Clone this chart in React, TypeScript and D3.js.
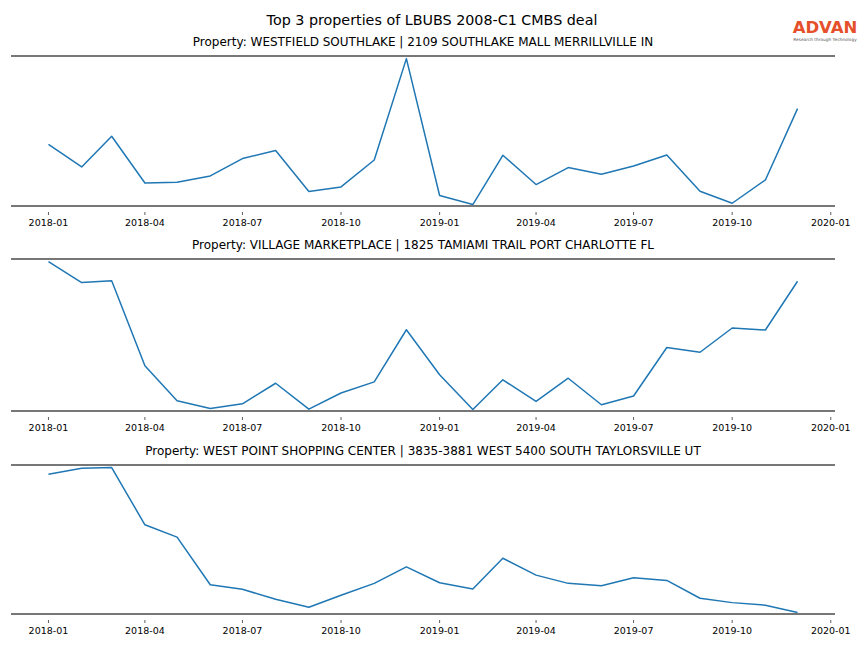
import React from "react";
import * as d3 from "d3";

const months: string[] = [
  "2018-01","2018-02","2018-03","2018-04","2018-05","2018-06","2018-07","2018-08","2018-09","2018-10","2018-11","2018-12",
  "2019-01","2019-02","2019-03","2019-04","2019-05","2019-06","2019-07","2019-08","2019-09","2019-10","2019-11","2019-12",
];

const titles: string[] = [
  "Property: WESTFIELD SOUTHLAKE | 2109 SOUTHLAKE MALL MERRILLVILLE IN",
  "Property: VILLAGE MARKETPLACE | 1825 TAMIAMI TRAIL PORT CHARLOTTE FL",
  "Property: WEST POINT SHOPPING CENTER | 3835-3881 WEST 5400 SOUTH TAYLORSVILLE UT",
];

const southlake: number[] = [617,390,697,230,237,300,474,554,144,190,460,1474,104,14,507,214,384,317,400,510,147,27,260,974];
const marketplace: number[] = [1484,1277,1294,454,107,30,77,280,24,184,294,810,364,20,314,100,330,67,154,634,587,827,807,1290];
const westpoint: number[] = [1404,1464,1470,894,770,290,244,144,64,184,304,470,310,247,557,387,304,280,360,334,154,110,84,10];

const series: number[][] = [southlake, marketplace, westpoint];

const W = 864;
const H = 648;
const left = 11;
const right = 835;
const panels = [
  { top: 56, bottom: 206 },
  { top: 259, bottom: 411 },
  { top: 465, bottom: 614 },
];
const font = "DejaVu Sans, sans-serif";

export default function App() {
  const parse = d3.timeParse("%Y-%m");
  const dates = months.map((m) => parse(m) as Date);
  const t0 = dates[0].getTime();
  const t1 = dates[dates.length - 1].getTime();
  const span = t1 - t0;
  const x = d3
    .scaleTime()
    .domain([new Date(t0 - 0.05 * span), new Date(t1 + 0.05 * span)])
    .range([left, right]);
  const ticks = d3.timeMonth
    .every(3)!
    .range(new Date(2018, 0, 1), new Date(2020, 0, 2));
  const fmt = d3.timeFormat("%Y-%m");

  return (
    <svg width={W} height={H} style={{ position: "absolute", left: 0, top: 0 }}>
      <rect width={W} height={H} fill="#fff" />
      <text x={432} y={25} textAnchor="middle" fontFamily={font} fontSize={14.3} fill="#000">
        Top 3 properties of LBUBS 2008-C1 CMBS deal
      </text>
      <g>
        <text x={825} y={32.5} textAnchor="middle" fontFamily={font} fontWeight="bold" fontSize={16.5} fill="#e5502a">
          ADVAN
        </text>
        <text x={825} y={40.5} textAnchor="middle" fontFamily={font} fontSize={4.3} fill="#555">
          Research through Technology
        </text>
      </g>
      {series.map((vals, i) => {
        const p = panels[i];
        const mn = d3.min(vals)!;
        const mx = d3.max(vals)!;
        const r = mx - mn;
        const y = d3
          .scaleLinear()
          .domain([mn - 0.01 * r, mx + 0.018 * r])
          .range([p.bottom, p.top]);
        const line = d3
          .line<number>()
          .x((_, j) => x(dates[j]))
          .y((v) => y(v));
        return (
          <g key={i}>
            <text x={(left + right) / 2} y={p.top - 10} textAnchor="middle" fontFamily={font} fontSize={12} fill="#000">
              {titles[i]}
            </text>
            <path d={line(vals) || ""} fill="none" stroke="#1f77b4" strokeWidth={1.5} strokeLinejoin="round" />
            <line x1={left} x2={right} y1={p.top} y2={p.top} stroke="#4a4a4a" strokeWidth={1.6} />
            <line x1={left} x2={right} y1={p.bottom} y2={p.bottom} stroke="#4a4a4a" strokeWidth={1.6} />
            {ticks.map((t, k) => (
              <g key={k} transform={`translate(${x(t)},0)`}>
                <line y1={p.bottom + 6} y2={p.bottom + 9} stroke="#333" strokeWidth={0.8} />
                <text y={p.bottom + 20} textAnchor="middle" fontFamily={font} fontSize={9.5} fill="#000">
                  {fmt(t)}
                </text>
              </g>
            ))}
          </g>
        );
      })}
    </svg>
  );
}
